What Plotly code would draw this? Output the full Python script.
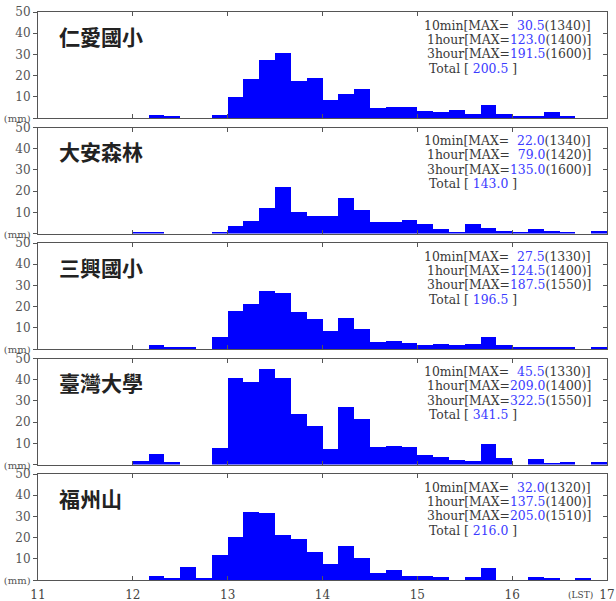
import plotly.graph_objects as go
from plotly.subplots import make_subplots

# ---------------- data ----------------
stations = ["仁愛國小", "大安森林", "三興國小", "臺灣大學", "福州山"]

# 10-minute rainfall (mm), bins starting 11:00, 11:10, ... 16:50
bin_start_min = list(range(660, 1020, 10))

renai = [0, 0, 0, 0, 0, 0, 0, 1.5, 0.5, 0, 0, 1.5,
         10, 18.5, 27.5, 30.5, 17.5, 19,
         8.5, 11.5, 13.5, 4.5, 5, 5,
         3.5, 3, 4, 2, 6, 2,
         0.5, 1, 3, 1, 0, 0]
daan = [0, 0, 0, 0, 0, 0, 0.5, 0.5, 0, 0, 0, 0.5,
        4, 6, 12.5, 22, 10.5, 8.5,
        8.5, 17, 11.5, 5.5, 5.5, 6.5,
        4.5, 2.5, 1, 4.5, 3, 1.5,
        0.5, 2.5, 1.5, 0.5, 0, 1.5]
sanxing = [0, 0, 0, 0, 0, 0, 0, 2, 1, 1, 0, 5.5,
           18, 21, 27.5, 26.5, 17.5, 14,
           8.5, 14.5, 9.5, 3.5, 4, 3,
           2, 2.5, 2, 2.5, 5.5, 2,
           0.5, 1, 0.5, 0.5, 0, 0.5]
ntu = [0, 0, 0, 0, 0, 0, 2, 5, 1.5, 0, 0, 8,
       41, 39, 45.5, 41, 24, 18.5,
       7.5, 27.5, 21.5, 8.5, 9, 8.5,
       4.5, 4, 2.5, 2, 10, 3.5,
       0, 3, 1, 1.5, 0, 1.5]
fuzhou = [0, 0, 0, 0, 0, 0, 0, 2, 1, 6, 0.5, 12,
          20.5, 32, 31.5, 21, 19.5, 13,
          7.5, 16, 10.5, 3.5, 4.5, 2,
          2, 1.5, 0, 1.5, 5.5, 0,
          0, 1.5, 0.5, 0, 0.5, 0]
series = [renai, daan, sanxing, ntu, fuzhou]

max10 = [30.5, 22.0, 27.5, 45.5, 32.0]
max10_t = ["1340", "1340", "1330", "1330", "1320"]
max1h = [123.0, 79.0, 124.5, 209.0, 137.5]
max1h_t = ["1400", "1420", "1400", "1400", "1400"]
max3h = [191.5, 135.0, 187.5, 322.5, 205.0]
max3h_t = ["1600", "1600", "1550", "1550", "1510"]
totals = [200.5, 143.0, 196.5, 341.5, 216.0]

x_ticks = [11, 12, 13, 14, 15, 16, 17]
x_ticktext = ["11", "12", "13", "14", "15", "16", "17"]
y_ticks = [0, 10, 20, 30, 40, 50]
y_ticktext = ["<span style='font-size:10px'>(mm)</span>", "10", "20", "30", "40", "50"]

# ---------------- figure ----------------
N = len(stations)
fig = make_subplots(rows=N, cols=1, vertical_spacing=9.5 / 568)

SERIF = "DejaVu Serif"
BLUE_TXT = "#3b3bff"
GRAY_TXT = "#3a3a3a"
AX = "#555555"

bin_center_h = [(m + 5) / 60 for m in bin_start_min]

for i, vals in enumerate(series):
    r = i + 1
    fig.add_trace(go.Bar(x=bin_center_h, y=vals, width=1 / 6,
                         marker=dict(color="#0000ff", line=dict(width=0)),
                         showlegend=False, hoverinfo="x+y"), row=r, col=1)
    fig.update_xaxes(range=[11, 17], tickvals=x_ticks, ticktext=x_ticktext,
                     ticks="inside", ticklen=4, tickcolor=AX, mirror="ticks",
                     showline=True, linecolor=AX, linewidth=1, showgrid=False,
                     zeroline=False, showticklabels=(r == N), automargin=False,
                     ticklabeloverflow="allow", ticklabelstandoff=4,
                     tickfont=dict(family=SERIF, size=12, color="#444444"),
                     row=r, col=1)
    fig.update_yaxes(range=[0, 50], tickvals=y_ticks, ticktext=y_ticktext,
                     ticks="outside", ticklen=4, tickcolor=AX, mirror=True,
                     showline=True, linecolor=AX, linewidth=1, showgrid=False,
                     zeroline=False, automargin=False, ticklabeloverflow="allow",
                     tickfont=dict(family=SERIF, size=12, color="#555555"),
                     row=r, col=1)

    # right-side inward ticks (overlay axis)
    xname = "x" if r == 1 else f"x{r}"
    yname = "y" if r == 1 else f"y{r}"
    ov = N + r
    fig.add_trace(go.Scatter(x=[None], y=[None], xaxis=xname, yaxis=f"y{ov}",
                             showlegend=False, hoverinfo="skip"))
    fig.layout[f"yaxis{ov}"] = dict(overlaying=yname, anchor=xname, side="right",
                                    range=[0, 50], tickvals=y_ticks[1:-1],
                                    ticks="inside", ticklen=4, tickcolor=AX,
                                    showticklabels=False, showline=False,
                                    showgrid=False, zeroline=False, automargin=False)

    xd = f"{xname} domain"
    yd = f"{yname} domain"

    fig.add_annotation(xref=xd, yref=yd, x=0.034, y=0.775, xanchor="left", yanchor="middle",
                       text=stations[i], showarrow=False,
                       font=dict(family="Noto Sans CJK TC", size=21, color="#222222",
                                 weight="bold"))

    def v(val):
        return f"<span style='color:{BLUE_TXT}'>{val:.1f}</span>"

    def pad(val):
        return "\u2007" if val < 100 else ""

    lines = [
        f"10min[MAX={pad(max10[i])}{v(max10[i])}({max10_t[i]})]",
        f"1hour[MAX={pad(max1h[i])}{v(max1h[i])}({max1h_t[i]})]",
        f"3hour[MAX={pad(max3h[i])}{v(max3h[i])}({max3h_t[i]})]",
    ]
    ys = [0.877, 0.741, 0.604]
    for txt, yy in zip(lines, ys):
        fig.add_annotation(xref=xd, yref=yd, x=0.976, y=yy, xanchor="right", yanchor="middle",
                           text=txt, showarrow=False,
                           font=dict(family=SERIF, size=12.4, color=GRAY_TXT))
    fig.add_annotation(xref=xd, yref=yd, x=0.684, y=0.467, xanchor="left", yanchor="middle",
                       text=f"Total [ {v(totals[i])} ]", showarrow=False,
                       font=dict(family=SERIF, size=12.4, color=GRAY_TXT))

fig.add_annotation(xref=f"x{N}", yref="paper", x=17, y=0, xanchor="right", yanchor="middle",
                   xshift=-12, yshift=-15, text="(LST)", showarrow=False,
                   font=dict(family=SERIF, size=9, color="#444444"))

fig.update_layout(width=616, height=601,
                  margin=dict(l=38, r=9, t=12, b=21),
                  paper_bgcolor="white", plot_bgcolor="white",
                  bargap=0, showlegend=False)

fig.write_html("out.html", config={"displayModeBar": False},
               post_script="document.body.style.margin='0px';document.body.style.padding='0px';")
